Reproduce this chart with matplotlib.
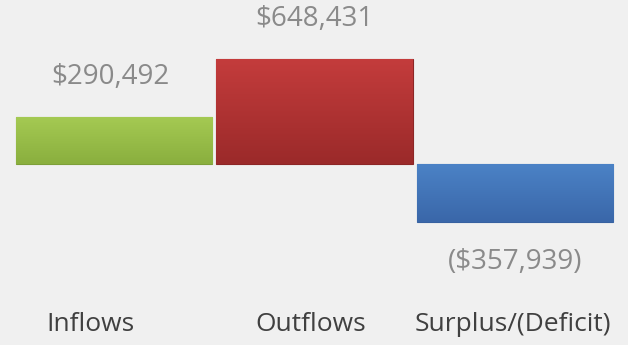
import matplotlib as mpl
from matplotlib import pyplot as plt
from matplotlib.colors import LinearSegmentedColormap
import numpy as np

categories = ['Inflows', 'Outflows', 'Surplus/(Deficit)']
values = [290492, 648431, -357939]
value_labels = ['$290,492', '$648,431', '($357,939)']
# top / bottom / edge colours for each bar
top_colors = ['#a5ca53', '#c43c3c', '#4b82c6']
bottom_colors = ['#8aaf3e', '#9b2a2a', '#3a67a9']
edge_colors = ['#7d9f38', '#8c2626', '#3761a0']

mpl.rcParams['font.family'] = ['Open Sans', 'DejaVu Sans']
bg = '#f0f0f0'

fig = plt.figure(figsize=(6.28, 3.45), dpi=100, facecolor=bg)
ax = fig.add_axes([0, 45 / 345, 1, 300 / 345])
ax.set_facecolor(bg)

x = np.arange(len(categories))
bars = ax.bar(x, values, width=0.98, color=top_colors, edgecolor=edge_colors,
              linewidth=0.8, zorder=2)

ax.set_xlim(-0.57, 2.565)
ax.set_ylim(-839800, 1012700)

# vertical shading inside each bar
for bar, c_top, c_bot in zip(bars, top_colors, bottom_colors):
    x0, y0 = bar.get_x(), bar.get_y()
    w, h = bar.get_width(), bar.get_height()
    lo, hi = min(y0, y0 + h), max(y0, y0 + h)
    cmap = LinearSegmentedColormap.from_list('shade', [c_bot, c_top])
    grad = np.linspace(0, 1, 64).reshape(-1, 1)
    im = ax.imshow(grad, cmap=cmap, aspect='auto', origin='lower',
                   extent=(x0, x0 + w, lo, hi), zorder=2.5)
    im.set_clip_path(bar)

# value labels above / below each bar
for xi, v, lab in zip(x, values, value_labels):
    dy = 29 if v > 0 else -29
    dx = -3 if xi == 0 else 0
    ax.annotate(lab, (xi, v), xytext=(dx, dy), textcoords='offset points',
                ha='center', va='center', fontsize=20, color='#8a8a8a')

# category names under the plot
label_shift = [-0.12, -0.02, -0.01]
for xi, name, s in zip(x, categories, label_shift):
    ax.text(xi + s, -0.083, name, transform=ax.get_xaxis_transform(),
            ha='center', va='center', fontsize=19, color='#404040',
            clip_on=False)

ax.set_xticks([])
ax.set_yticks([])
for sp in ax.spines.values():
    sp.set_visible(False)

plt.savefig('out.png', dpi=100, facecolor=bg)
